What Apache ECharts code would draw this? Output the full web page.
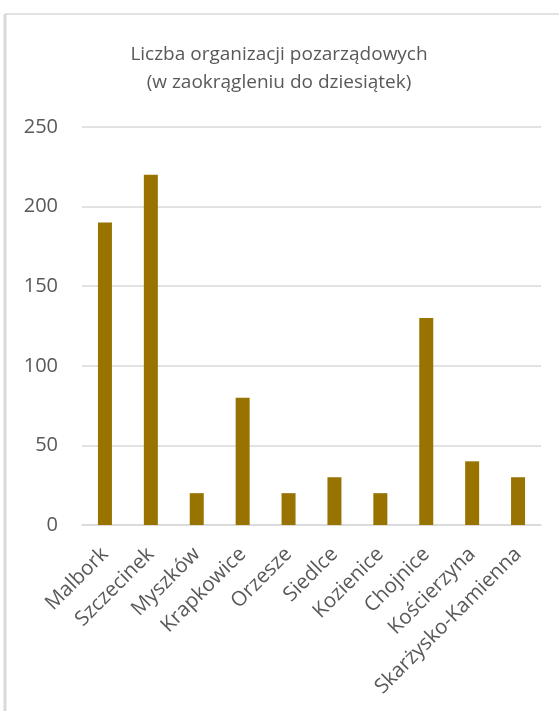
<!DOCTYPE html>
<html>
<head>
<meta charset="utf-8">
<script src="https://cdn.jsdelivr.net/npm/echarts@6/dist/echarts.min.js"></script>
<style>
  html, body { margin: 0; padding: 0; background: #fff; }
  #chart { width: 559px; height: 711px; }
</style>
</head>
<body>
<div id="chart"></div>
<script>
// dane
var cities = ['Malbork', 'Szczecinek', 'Myszków', 'Krapkowice', 'Orzesze', 'Siedlce',
              'Kozienice', 'Chojnice', 'Kościerzyna', 'Skarżysko-Kamienna'];
var counts = [190, 220, 20, 80, 20, 30, 20, 130, 40, 30];
var yTicks = [0, 50, 100, 150, 200, 250];

var chart = echarts.init(document.getElementById('chart'));

var option = {
  animation: false,
  title: {
    text: 'Liczba organizacji pozarządowych\n(w zaokrągleniu do dziesiątek)',
    left: 274,
    textAlign: 'center',
    top: 36,
    textStyle: {
      fontFamily: 'Open Sans',
      fontWeight: 'normal',
      fontSize: 19,
      lineHeight: 28,
      color: '#595959'
    }
  },
  grid: { left: 82, right: 18, top: 127, bottom: 186 },
  xAxis: {
    type: 'category',
    data: cities,
    axisLine: { lineStyle: { color: '#d9d9d9', width: 1.5 } },
    axisTick: { show: false },
    axisLabel: {
      rotate: 45,
      interval: 0,
      margin: 26,
      fontFamily: 'Open Sans',
      fontSize: 20.5,
      color: '#595959'
    }
  },
  yAxis: {
    type: 'value',
    min: yTicks[0],
    max: yTicks[yTicks.length - 1],
    interval: 50,
    axisLine: { show: false },
    axisTick: { show: false },
    splitLine: { lineStyle: { color: '#d9d9d9', width: 1.5 } },
    axisLabel: {
      margin: 24,
      fontFamily: 'Open Sans',
      fontSize: 20,
      color: '#595959'
    }
  },
  series: [{
    type: 'bar',
    data: counts,
    barWidth: 14,
    itemStyle: { color: '#997300' }
  }],
  graphic: [
    // ramka wykresu
    { type: 'line', shape: { x1: 5, y1: 14, x2: 559, y2: 14 }, style: { stroke: '#d9d9d9', lineWidth: 1.5 } },
    { type: 'line', shape: { x1: 5, y1: 14, x2: 5, y2: 711 }, style: { stroke: '#d9d9d9', lineWidth: 3 } }
  ]
};

chart.setOption(option);
</script>
</body>
</html>
